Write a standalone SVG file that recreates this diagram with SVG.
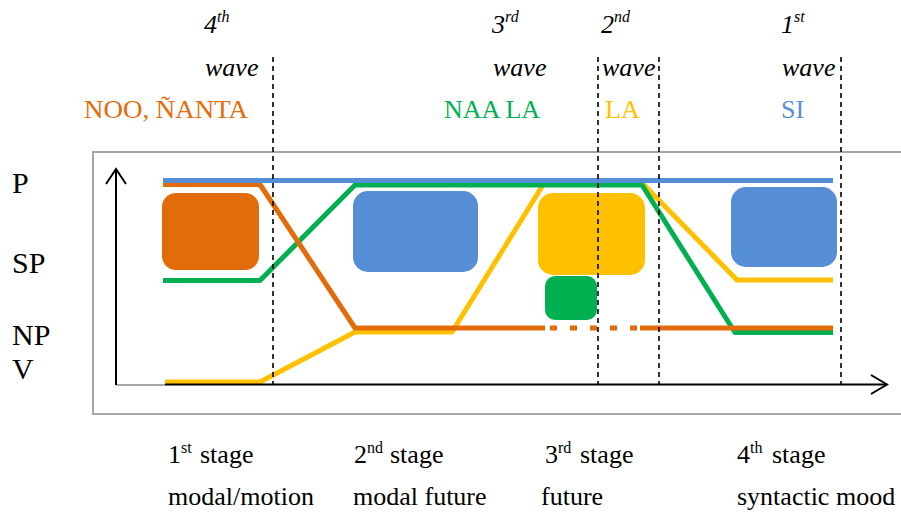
<svg xmlns="http://www.w3.org/2000/svg" width="901" height="513" viewBox="0 0 901 513">
<defs>
<style>
.t{font-family:"Liberation Serif","Times New Roman",serif;fill:#000}
.it{font-style:italic;font-size:26px}
.sup{font-size:16px}
.lab{font-size:26px}
.ax{font-size:30px}
.st{font-size:26px}
.sup2{font-size:16px}
.ln{fill:none;stroke-width:5;stroke-linejoin:round;stroke-linecap:butt}
.dash{stroke:#000;stroke-width:1.6;stroke-dasharray:5 4;fill:none}
.org{stroke:#E36C0A}.blu{stroke:#558ED5}.grn{stroke:#00B050}.yel{stroke:#FFC000}
</style>
</defs>
<rect x="0" y="0" width="901" height="513" fill="#fff"/>
<rect id="frame" x="93" y="152" width="812" height="262" fill="none" stroke="#A6A6A6" stroke-width="2"/>

<g id="axes">
<line x1="116" y1="385" x2="165" y2="385" stroke="#A6A6A6" stroke-width="2"/>
<line x1="116" y1="169" x2="116" y2="385" stroke="#000" stroke-width="2"/>
<polyline points="106,184 116,169 126,184" fill="none" stroke="#000" stroke-width="2"/>
</g>

<g id="wave-labels">
<text class="t it" x="204" y="33">4<tspan class="sup" dy="-11">th</tspan></text>
<text class="t it" x="205" y="76">wave</text>
<text class="t it" x="492" y="33">3<tspan class="sup" dy="-11">rd</tspan></text>
<text class="t it" x="493" y="76">wave</text>
<text class="t it" x="601" y="33">2<tspan class="sup" dy="-11">nd</tspan></text>
<text class="t it" x="602" y="76">wave</text>
<text class="t it" x="781" y="33">1<tspan class="sup" dy="-11">st</tspan></text>
<text class="t it" x="782" y="76">wave</text>
</g>

<g id="form-labels">
<text class="t lab" x="84" y="118" style="fill:#E36C0A" textLength="164" lengthAdjust="spacingAndGlyphs">NOO, ÑANTA</text>
<text class="t lab" x="444" y="118" style="fill:#00B050">NAA LA</text>
<text class="t lab" x="605" y="118" style="fill:#FFC000">LA</text>
<text class="t lab" x="781" y="118" style="fill:#558ED5">SI</text>
</g>

<g id="level-labels">
<text class="t ax" x="12" y="193">P</text>
<text class="t ax" x="12" y="273">SP</text>
<text class="t ax" x="12" y="345">NP</text>
<text class="t ax" x="12" y="379">V</text>
</g>

<g id="box-orange"><rect x="162" y="193" width="97" height="77" rx="14" fill="#E36C0A"/></g>
<g id="box-blue-1"><rect x="353" y="191" width="125" height="81" rx="15" fill="#558ED5"/></g>
<g id="box-yellow"><rect x="538" y="193" width="107" height="82" rx="15" fill="#FFC000"/></g>
<g id="box-green"><rect x="545" y="276" width="52" height="44" rx="10" fill="#00B050"/></g>
<g id="box-blue-2"><rect x="731" y="187" width="106" height="80" rx="15" fill="#558ED5"/></g>

<g id="connectors">
<polyline class="ln yel" points="165,382 260,382 355,332 452,332 543,185"/>
<polyline class="ln yel" points="643,184 737,280 833,280"/>
<polyline class="ln grn" points="163,280.5 260,280.5 355,185 642,185 735,332.5 833,332.5" stroke-linecap="round"/>
<polyline class="ln org" points="163,184.5 260,184.5 355,328 545,328" stroke-linecap="round"/>
<line class="ln org" x1="550" y1="328" x2="640" y2="328" stroke-dasharray="7 13" stroke-linecap="round"/>
<line class="ln org" x1="640" y1="328" x2="833" y2="328" stroke-linecap="round"/>
<line class="ln blu" x1="163" y1="180.5" x2="833" y2="180.5" stroke-linecap="round"/>
<line x1="165" y1="384.5" x2="887" y2="384.5" stroke="#000" stroke-width="2"/>
<polyline points="871,375 887,384.5 871,394" fill="none" stroke="#000" stroke-width="2"/>
</g>

<g id="wave-dividers">
<line class="dash" x1="273" y1="57" x2="273" y2="384"/>
<line class="dash" x1="598" y1="57" x2="598" y2="384"/>
<line class="dash" x1="659" y1="57" x2="659" y2="384"/>
<line class="dash" x1="841" y1="57" x2="841" y2="384"/>
</g>

<g id="stage-labels">
<text class="t st" x="168" y="463">1<tspan class="sup2" dy="-10">st</tspan></text>
<text class="t st" x="200" y="463">stage</text>
<text class="t st" x="168" y="505">modal/motion</text>
<text class="t st" x="354" y="463">2<tspan class="sup2" dy="-10">nd</tspan></text>
<text class="t st" x="390" y="463">stage</text>
<text class="t st" x="353" y="505">modal future</text>
<text class="t st" x="545" y="463">3<tspan class="sup2" dy="-10">rd</tspan></text>
<text class="t st" x="580" y="463">stage</text>
<text class="t st" x="541" y="505">future</text>
<text class="t st" x="737" y="463">4<tspan class="sup2" dy="-10">th</tspan></text>
<text class="t st" x="772" y="463">stage</text>
<text class="t st" x="737" y="505">syntactic mood</text>
</g>
</svg>
